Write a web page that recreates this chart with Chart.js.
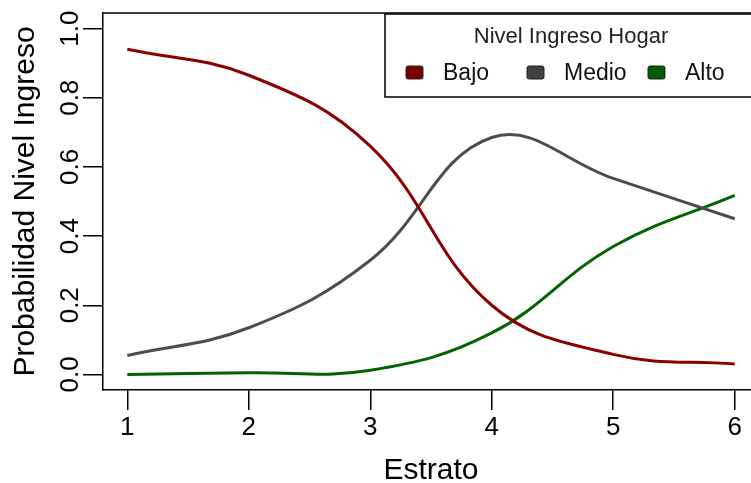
<!DOCTYPE html>
<html>
<head>
<meta charset="utf-8">
<script src="https://cdn.jsdelivr.net/npm/chart.js@4/dist/chart.umd.min.js"></script>
<style>
  html, body { margin: 0; padding: 0; background: #fff; overflow: hidden; }
  #wrap { width: 770px; height: 483px; }
</style>
</head>
<body>
<div id="wrap"><canvas id="chartCanvas" width="770" height="483"></canvas></div>
<script>
// Estratos (eje x)
const estratos = [1, 2, 3, 4, 5, 6];
// Probabilidades estimadas por nivel de ingreso
const probBajo = [0.94, 0.865, 0.66, 0.20, 0.058, 0.03];
const probMedio = [0.055, 0.135, 0.33, 0.685, 0.567, 0.45];
const probAlto = [0.0, 0.005, 0.012, 0.12, 0.37, 0.518];
// Ticks
const xTicks = [1, 2, 3, 4, 5, 6];
const yTicks = [0, 0.2, 0.4, 0.6, 0.8, 1.0];

const series = [
  { label: "Bajo", data: probBajo, color: "#8b0000", box: "#7a0000" },
  { label: "Medio", data: probMedio, color: "#4d4d4d", box: "#404040" },
  { label: "Alto", data: probAlto, color: "#006400", box: "#005a00" },
];

const toPoints = (ys) => estratos.map((x, i) => ({ x: x, y: ys[i] }));

// Caja del gráfico, etiquetas del eje y y leyenda (estilo R)
const rPlot = {
  id: "rPlot",
  afterDraw(chart) {
    const c = chart.ctx;
    const a = chart.chartArea;
    const y = chart.scales.y;

    c.save();
    c.strokeStyle = "#000";
    c.lineWidth = 1.5;
    c.beginPath();
    c.moveTo(a.left, a.top);
    c.lineTo(a.right, a.top);
    c.lineTo(a.right, a.bottom);
    c.stroke();

    // etiquetas del eje y rotadas
    c.fillStyle = "#000";
    c.font = "26px 'Liberation Sans', Arial, sans-serif";
    c.textAlign = "center";
    c.textBaseline = "alphabetic";
    y.ticks.forEach((t) => {
      const py = y.getPixelForValue(t.value);
      c.save();
      c.translate(78, py);
      c.rotate(-Math.PI / 2);
      c.fillText(t.value.toFixed(1), 0, 0);
      c.restore();
    });

    // leyenda
    const lx = 385, ly = 14, lw = 380, lh = 83;
    c.fillStyle = "#fff";
    c.fillRect(lx, ly, lw, lh);
    c.strokeStyle = "#000";
    c.lineWidth = 1.5;
    c.strokeRect(lx, ly, lw, lh);

    c.fillStyle = "#222";
    c.font = "22px 'Liberation Sans', Arial, sans-serif";
    c.textAlign = "center";
    c.fillText("Nivel Ingreso Hogar", 571, 43);

    const boxX = [406, 527, 648];
    c.font = "23px 'Liberation Sans', Arial, sans-serif";
    c.textAlign = "left";
    chart.data.datasets.forEach((ds, i) => {
      c.fillStyle = ds.boxColor;
      c.strokeStyle = "#222";
      c.lineWidth = 1;
      c.beginPath();
      c.roundRect(boxX[i], 66, 17, 13, 2);
      c.fill();
      c.stroke();
      c.fillStyle = "#111";
      c.fillText(ds.label, boxX[i] + 37, 80);
    });
    c.restore();
  },
};

new Chart(document.getElementById("chartCanvas").getContext("2d"), {
  type: "line",
  data: {
    datasets: series.map((s) => ({
      label: s.label,
      data: toPoints(s.data),
      borderColor: s.color,
      boxColor: s.box,
      borderWidth: 3,
      pointRadius: 0,
      tension: 0.4,
      fill: false,
    })),
  },
  options: {
    responsive: false,
    animation: false,
    devicePixelRatio: 1,
    layout: { padding: { left: 0, top: 13, right: 11, bottom: 0 } },
    plugins: { legend: { display: false }, tooltip: { enabled: false } },
    scales: {
      x: {
        type: "linear",
        min: 0.8,
        max: 6.2,
        afterBuildTicks: (s) => { s.ticks = xTicks.map((v) => ({ value: v })); },
        afterFit: (s) => { s.height = 93; },
        grid: { drawOnChartArea: false, drawTicks: true, tickLength: 20, color: "#000", lineWidth: 1.5 },
        border: { display: true, color: "#000", width: 1.5 },
        ticks: {
          color: "#000",
          padding: 2,
          maxRotation: 0,
          font: { family: "'Liberation Sans', Arial, sans-serif", size: 26 },
          callback: (v) => String(v),
        },
        title: {
          display: true,
          text: "Estrato",
          color: "#000",
          padding: { top: 0, bottom: 0 },
          font: { family: "'Liberation Sans', Arial, sans-serif", size: 30, lineHeight: 0.8 },
        },
      },
      y: {
        type: "linear",
        min: -0.045,
        max: 1.045,
        afterBuildTicks: (s) => { s.ticks = yTicks.map((v) => ({ value: v })); },
        afterFit: (s) => { s.width = 103; },
        grid: { drawOnChartArea: false, drawTicks: true, tickLength: 20, color: "#000", lineWidth: 1.5 },
        border: { display: true, color: "#000", width: 1.5 },
        ticks: { display: false },
        title: {
          display: true,
          text: "Probabilidad Nivel Ingreso",
          color: "#000",
          padding: { top: 14, bottom: 0 },
          font: { family: "'Liberation Sans', Arial, sans-serif", size: 30, lineHeight: 0.8 },
        },
      },
    },
  },
  plugins: [rPlot],
});
</script>
</body>
</html>
